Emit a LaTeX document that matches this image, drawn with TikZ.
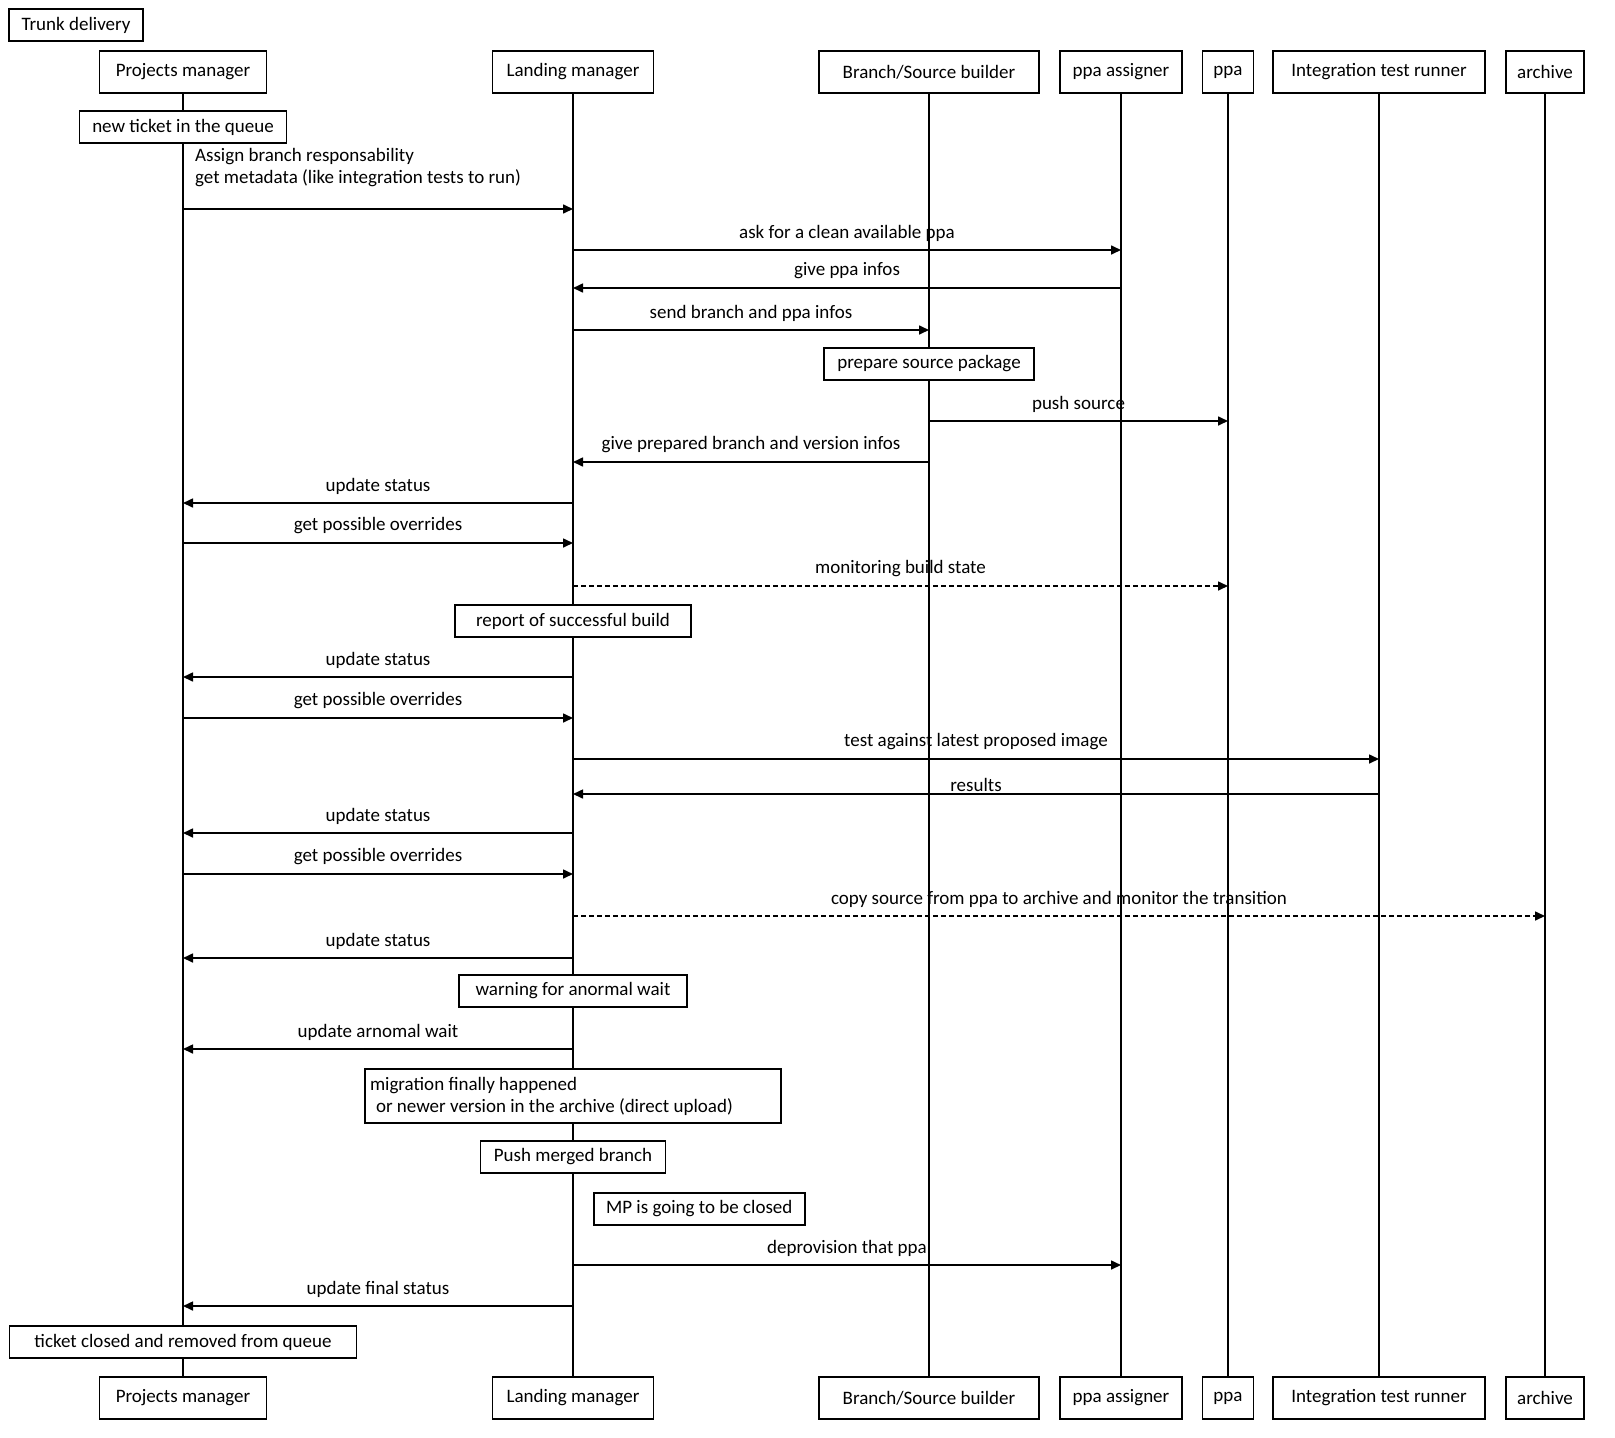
\documentclass[tikz,border=0pt]{standalone}
\usepackage{fontspec}
\setmainfont{Carlito}
\usepackage{tikz}
\usetikzlibrary{arrows.meta}
\usetikzlibrary{positioning}
\tikzset{
  actor/.style={draw, line width=1.5pt, fill=white, minimum height=42pt, inner sep=0pt},
  note/.style={draw, line width=1.5pt, fill=white, minimum height=32pt, inner sep=0pt},
  life/.style={line width=1.3pt},
  msg/.style={line width=1.6pt, -{Triangle[length=10pt,width=9pt]}},
  async/.style={msg, dash pattern=on 5pt off 3pt},
  lbl/.style={midway, yshift=17pt}}

\begin{document}
\begin{tikzpicture}[x=1pt, y=-1pt, every node/.style={font=\fontsize{19}{22}\selectfont}]
\useasboundingbox (0,0) rectangle (1615,1438);
\node[note, minimum width=134pt] (title) at (76,25) {Trunk delivery};
\node[actor, minimum width=167pt] (pmT) at (183,72) {Projects manager};
\node[actor, minimum width=161pt] (lmT) at (573,72) {Landing manager};
\node[actor, minimum width=220pt] (bsT) at (929,72) {Branch/Source builder};
\node[actor, minimum width=122pt] (paT) at (1121,72) {ppa assigner};
\node[actor, minimum width=51pt] (ppaT) at (1228,72) {ppa};
\node[actor, minimum width=212pt] (itrT) at (1379,72) {Integration test runner};
\node[actor, minimum width=78pt] (arT) at (1545,72) {archive};
\node[actor, minimum width=167pt] (pmB) at (183,1398) {Projects manager};
\node[actor, minimum width=161pt] (lmB) at (573,1398) {Landing manager};
\node[actor, minimum width=220pt] (bsB) at (929,1398) {Branch/Source builder};
\node[actor, minimum width=122pt] (paB) at (1121,1398) {ppa assigner};
\node[actor, minimum width=51pt] (ppaB) at (1228,1398) {ppa};
\node[actor, minimum width=212pt] (itrB) at (1379,1398) {Integration test runner};
\node[actor, minimum width=78pt] (arB) at (1545,1398) {archive};
\draw[life] (pmT) -- (pmB);
\draw[life] (lmT) -- (lmB);
\draw[life] (bsT) -- (bsB);
\draw[life] (paT) -- (paB);
\draw[life] (ppaT) -- (ppaB);
\draw[life] (itrT) -- (itrB);
\draw[life] (arT) -- (arB);

\node[note, minimum width=207pt] (ticket) at (pmT |- 0,127) {new ticket in the queue};
\node[note, minimum width=210pt] (prepare) at (bsT |- 0,364) {prepare source package};
\node[note, minimum width=236pt] (report) at (lmT |- 0,621) {report of successful build};
\node[note, minimum width=228pt] (warning) at (lmT |- 0,991) {warning for anormal wait};
\node[note, text width=406pt, inner xsep=5pt, minimum height=54pt, align=flush left] (migration) at (lmT |- 0,1096)
  {migration finally happened\\\hspace{6pt}or newer version in the archive (direct upload)};
\node[note, minimum width=185pt] (push) at (lmT |- 0,1157) {Push merged branch};
\node[note, minimum width=211pt, anchor=west, xshift=20pt] (mp) at (lmT |- 0,1209) {MP is going to be closed};
\node[note, minimum width=347pt] (closed) at (pmT |- 0,1342) {ticket closed and removed from queue};

\draw[msg] (pmT |- 0,209) -- (lmT |- 0,209)
  node[pos=0, anchor=south west, align=left, xshift=8pt, yshift=18pt]
  {Assign branch responsability\\get metadata (like integration tests to run)};
\draw[msg] (lmT |- 0,250) -- node[lbl] {ask for a clean available ppa} (paT |- 0,250);
\draw[msg] (paT |- 0,288) -- node[lbl] {give ppa infos} (lmT |- 0,288);
\draw[msg] (lmT |- 0,330) -- node[lbl] {send branch and ppa infos} (bsT |- 0,330);
\draw[msg] (bsT |- 0,421) -- node[lbl] {push source} (ppaT |- 0,421);
\draw[msg] (bsT |- 0,462) -- node[lbl] {give prepared branch and version infos} (lmT |- 0,462);
\draw[msg] (lmT |- 0,503) -- node[lbl] {update status} (pmT |- 0,503);
\draw[msg] (pmT |- 0,543) -- node[lbl] {get possible overrides} (lmT |- 0,543);
\draw[async] (lmT |- 0,586) -- node[lbl] {monitoring build state} (ppaT |- 0,586);
\draw[msg] (lmT |- 0,677) -- node[lbl] {update status} (pmT |- 0,677);
\draw[msg] (pmT |- 0,718) -- node[lbl] {get possible overrides} (lmT |- 0,718);
\draw[msg] (lmT |- 0,759) -- node[lbl] {test against latest proposed image} (itrT |- 0,759);
\draw[msg] (itrT |- 0,794) -- node[lbl, yshift=-8pt] {results} (lmT |- 0,794);
\draw[msg] (lmT |- 0,833) -- node[lbl] {update status} (pmT |- 0,833);
\draw[msg] (pmT |- 0,874) -- node[lbl] {get possible overrides} (lmT |- 0,874);
\draw[async] (lmT |- 0,916) -- node[lbl] {copy source from ppa to archive and monitor the transition} (arT |- 0,916);
\draw[msg] (lmT |- 0,958) -- node[lbl] {update status} (pmT |- 0,958);
\draw[msg] (lmT |- 0,1049) -- node[lbl] {update arnomal wait} (pmT |- 0,1049);
\draw[msg] (lmT |- 0,1265) -- node[lbl] {deprovision that ppa} (paT |- 0,1265);
\draw[msg] (lmT |- 0,1306) -- node[lbl] {update final status} (pmT |- 0,1306);
\end{tikzpicture}
\end{document}
